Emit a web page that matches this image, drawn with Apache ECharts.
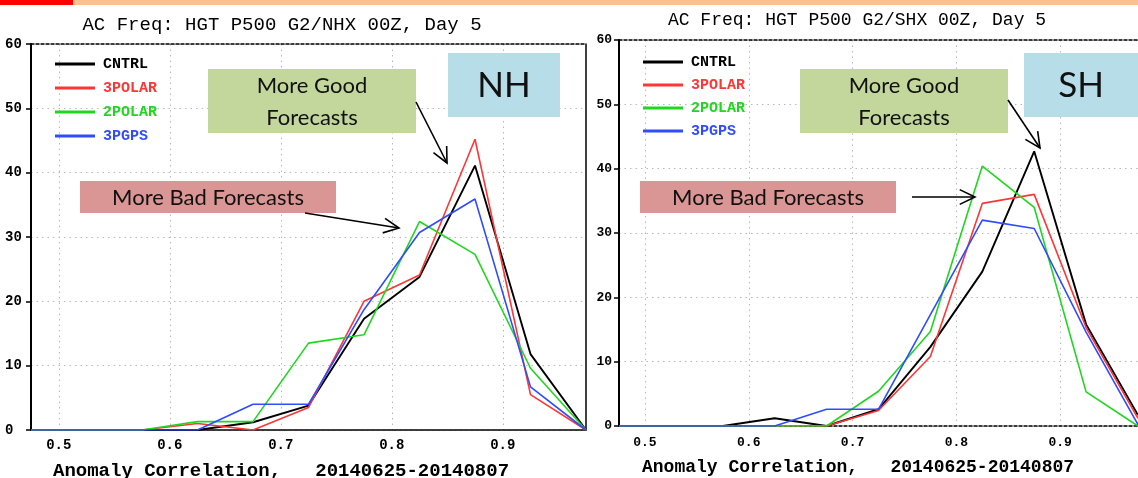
<!DOCTYPE html>
<html><head><meta charset="utf-8">
<script src="https://cdn.jsdelivr.net/npm/echarts@6/dist/echarts.min.js"></script>
<style>html,body{margin:0;padding:0;background:#fff}#c{width:1138px;height:478px}</style>
</head><body><div id="c"></div>
<script>
// ---- data ----
const xBins = [0.475, 0.525, 0.575, 0.625, 0.675, 0.725, 0.775, 0.825, 0.875, 0.925, 0.975];
const seriesNames = ['CNTRL', '3POLAR', '2POLAR', '3PGPS'];
const seriesColors = ['#000000', '#ff3636', '#1ed81e', '#2f4cff'];
// Northern hemisphere
const nhCNTRL  = [0, 0, 0, 0,   1.2, 3.8, 17.3, 23.8, 41.1, 11.8, 0];
const nh3POLAR = [0, 0, 0, 1.0, 0,   3.5, 20.0, 24.1, 45.2, 5.5,  0];
const nh2POLAR = [0, 0, 0, 1.3, 1.3, 13.5, 14.8, 32.4, 27.3, 9.6, 0];
const nh3PGPS  = [0, 0, 0, 0,   4.0, 4.0, 18.7, 30.7, 35.9, 6.7,  0];
// Southern hemisphere
const shCNTRL  = [0, 0, 0, 1.2, 0,   2.6, 12.3, 24.0, 42.7, 15.8, 1.7];
const sh3POLAR = [0, 0, 0, 0,   0,   2.4, 10.8, 34.6, 36.0, 15.3, 1.2];
const sh2POLAR = [0, 0, 0, 0,   0,   5.4, 14.7, 40.4, 34.0, 5.3,  0];
const sh3PGPS  = [0, 0, 0, 0,   2.6, 2.6, 17.3, 32.0, 30.7, 14.6, 0.2];
const xTickValues = [0.5, 0.6, 0.7, 0.8, 0.9];
const titles = ['AC Freq: HGT P500 G2/NHX 00Z, Day 5', 'AC Freq: HGT P500 G2/SHX 00Z, Day 5'];
const xAxisTitle = 'Anomaly Correlation,   20140625-20140807';
const regionLabels = ['NH', 'SH'];
const goodText = 'More Good\nForecasts';
const badText = 'More Bad Forecasts';

const nhSets = [nhCNTRL, nh3POLAR, nh2POLAR, nh3PGPS];
const shSets = [shCNTRL, sh3POLAR, sh2POLAR, sh3PGPS];

const chart = echarts.init(document.getElementById('c'), null, {renderer: 'canvas'});
const MONO = 'Liberation Mono';
const GRIDLINE = {show: true, lineStyle: {color: '#b8b8b8', type: [1.5, 4], width: 1}};

function bottomX(gi, fs, margin, dashed) {
  return {type: 'value', gridIndex: gi, min: 0.475, max: 0.975, position: 'bottom',
    axisLine: {show: true, onZero: false, lineStyle: {color: '#000', width: 1.5, type: dashed ? [3, 2] : 'solid'}},
    axisTick: {show: false, customValues: xTickValues},
    axisLabel: {customValues: xTickValues, margin: margin, fontFamily: MONO, fontWeight: 'bold', fontSize: fs, color: '#000',
      formatter: v => v.toFixed(1)},
    splitLine: GRIDLINE};
}
function topX(gi) {
  return {type: 'value', gridIndex: gi, min: 0.475, max: 0.975, position: 'top',
    axisLine: {show: true, onZero: false, lineStyle: {color: '#000', width: 1.5, type: [3, 2]}},
    axisTick: {show: false}, axisLabel: {show: false}, splitLine: {show: false}};
}
function leftY(gi, fs, margin, align) {
  return {type: 'value', gridIndex: gi, min: 0, max: 60, interval: 10, position: 'left',
    axisLine: {show: true, onZero: false, lineStyle: {color: '#000', width: 2}},
    axisTick: {show: true, inside: false, length: 5, lineStyle: {color: '#000', width: 1.5}},
    axisLabel: {margin: margin, align: align, fontFamily: MONO, fontWeight: 'bold', fontSize: fs, color: '#000'},
    splitLine: GRIDLINE};
}
function rightY(gi) {
  return {type: 'value', gridIndex: gi, min: 0, max: 60, interval: 10, position: 'right',
    axisLine: {show: true, onZero: false, lineStyle: {color: '#000', width: 1.5}},
    axisTick: {show: false}, axisLabel: {show: false}, splitLine: {show: false}};
}

const series = [];
[nhSets, shSets].forEach((sets, gi) => {
  sets.forEach((vals, si) => {
    series.push({
      type: 'line', name: seriesNames[si], xAxisIndex: gi * 2, yAxisIndex: gi * 2,
      data: xBins.map((x, i) => [x, vals[i]]),
      showSymbol: false, symbol: 'none', animation: false,
      color: seriesColors[si],
      lineStyle: {color: seriesColors[si], width: si === 0 ? 1.9 : 1.6}
    });
  });
});

function legendFor(left, top, gap, fs) {
  return {orient: 'vertical', left: left, top: top, itemGap: gap, itemWidth: 40, itemHeight: 3, icon: 'rect',
    selectedMode: false,
    data: seriesNames.map((n, i) => ({name: n, textStyle: {color: seriesColors[i]}})),
    textStyle: {fontFamily: MONO, fontWeight: 'bold', fontSize: fs, lineHeight: 16, padding: [0, 0, 0, 3]}};
}

function arrow(x1, y1, x2, y2) {
  const a = Math.atan2(y2 - y1, x2 - x1), L = 17, w = 0.45;
  const p1 = [x2 - L * Math.cos(a - w), y2 - L * Math.sin(a - w)];
  const p2 = [x2 - L * Math.cos(a + w), y2 - L * Math.sin(a + w)];
  const st = {stroke: '#000', lineWidth: 1.6, fill: null};
  return [
    {type: 'polyline', shape: {points: [[x1, y1], [x2, y2]]}, style: st, z: 100},
    {type: 'polyline', shape: {points: [p1, [x2, y2], p2]}, style: st, z: 100}
  ];
}
function box(x, y, w, h, color, text, fs, lh) {
  return [
    {type: 'rect', shape: {x: x, y: y, width: w, height: h}, style: {fill: color}, z: 90},
    {type: 'text', x: x + w / 2, y: y + h / 2 + 1, z: 91,
      style: {text: text, fontFamily: 'Lato', fontSize: fs, lineHeight: lh, fill: '#111', align: 'center', verticalAlign: 'middle'}}
  ];
}

const GREEN = '#c3d69b', BLUE = '#b7dde8', RED = '#d99694';
const graphic = [
  {type: 'rect', shape: {x: 0, y: 0, width: 73, height: 5}, style: {fill: '#ff0000'}, z: 100},
  {type: 'rect', shape: {x: 73, y: 0, width: 1065, height: 5}, style: {fill: '#fac08f'}, z: 100},
  {type: 'text', x: 282, y: 25, style: {text: titles[0], fontFamily: MONO, fontSize: 19, fill: '#000', align: 'center', verticalAlign: 'middle'}},
  {type: 'text', x: 857, y: 20, style: {text: titles[1], fontFamily: MONO, fontSize: 18, fill: '#000', align: 'center', verticalAlign: 'middle'}},
  {type: 'text', x: 53, y: 471, style: {text: xAxisTitle, fontFamily: MONO, fontWeight: 'bold', fontSize: 19, fill: '#000', align: 'left', verticalAlign: 'middle'}},
  {type: 'text', x: 642, y: 467, style: {text: xAxisTitle, fontFamily: MONO, fontWeight: 'bold', fontSize: 18, fill: '#000', align: 'left', verticalAlign: 'middle'}},
  ...box(208, 69, 208, 64, GREEN, goodText, 22, 32),
  ...box(448, 53, 112, 64, BLUE, regionLabels[0], 35, 40),
  ...box(80, 181, 256, 32, RED, badText, 22, 26),
  ...arrow(416, 102, 447, 163),
  ...arrow(305, 213, 399, 228),
  ...box(800, 69, 208, 64, GREEN, goodText, 22, 32),
  ...box(1024, 53, 114, 64, BLUE, regionLabels[1], 35, 40),
  ...box(640, 181, 256, 32, RED, badText, 22, 26),
  ...arrow(1008, 100, 1040, 148),
  ...arrow(912, 197, 975, 197)
];

chart.setOption({
  animation: false,
  backgroundColor: '#fff',
  grid: [
    {left: 31, top: 44, width: 555, height: 386, containLabel: false},
    {left: 619, top: 40, width: 523, height: 386, containLabel: false}
  ],
  xAxis: [bottomX(0, 14, 8, false), topX(0), bottomX(1, 13, 10, true), topX(1)],
  yAxis: [leftY(0, 14, 26, 'left'), rightY(0), leftY(1, 13, 7, 'right')],
  legend: [legendFor(50, 51, 8, 15), legendFor(638, 49, 7, 15)],
  series: series,
  graphic: graphic
});
</script></body></html>
